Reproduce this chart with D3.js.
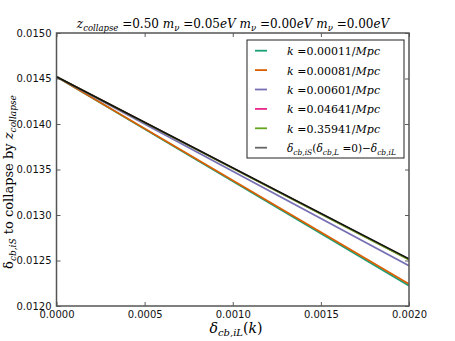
<!DOCTYPE html>
<html>
<head>
<meta charset="utf-8">
<script src="https://cdn.jsdelivr.net/npm/d3@7"></script>
<style>
  body { margin: 0; background: #fff; }
  .math { font-family: "DejaVu Serif", "Liberation Serif", serif; font-style: italic; }
  .rm { font-family: "DejaVu Serif", "Liberation Serif", serif; font-style: normal; }
</style>
</head>
<body>
<svg id="chart" width="455" height="341"></svg>
<script>
// ----- data -----
var deltaL = [0.0, 0.002];
var seriesNames = ['0.00011', '0.00081', '0.00601', '0.04641', '0.35941', 'theory'];
var seriesColors = ['#1b9e77', '#d95f02', '#7570b3', '#e7298a', '#66a61e', '#666666'];
var drawColors = ['#1b9e77', '#d95f02', '#7570b3', '#e7298a', '#66a61e', '#111111'];
var seriesValues = [
  [0.01452, 0.012222],
  [0.01452, 0.012242],
  [0.01452, 0.012443],
  [0.01452, 0.012512],
  [0.01452, 0.012508],
  [0.01452, 0.012518]
];
var xTicks = [0.0, 0.0005, 0.0010, 0.0015, 0.0020];
var yTicks = [0.0120, 0.0125, 0.0130, 0.0135, 0.0140, 0.0145, 0.0150];

// ----- layout -----
var pLeft = 56.5, pRight = 409, pTop = 33, pBottom = 306;
var svg = d3.select('#chart');

var x = d3.scaleLinear().domain([0, 0.002]).range([pLeft, pRight]);
var y = d3.scaleLinear().domain([0.012, 0.015]).range([pBottom, pTop]);

// lines
var line = d3.line()
  .x(function(d, i) { return x(deltaL[i]); })
  .y(function(d) { return y(d); });

var plot = svg.append('g');
plot.append('clipPath').attr('id', 'clip')
  .append('rect').attr('x', pLeft).attr('y', pTop)
  .attr('width', pRight - pLeft).attr('height', pBottom - pTop);

plot.selectAll('path.series')
  .data(seriesValues)
  .enter().append('path')
  .attr('class', 'series')
  .attr('clip-path', 'url(#clip)')
  .attr('d', line)
  .attr('fill', 'none')
  .attr('stroke', function(d, i) { return drawColors[i]; })
  .attr('stroke-width', function(d, i) { return i === 5 ? 1.6 : 1.8; });

// axes: ticks inside on all sides
var fmt = d3.format('.4f');
var bottomAxis = d3.axisBottom(x).tickValues(xTicks).tickFormat(fmt).tickSizeInner(-4).tickSizeOuter(0).tickPadding(5);
var topAxis = d3.axisTop(x).tickValues(xTicks).tickFormat('').tickSizeInner(-4).tickSizeOuter(0);
var leftAxis = d3.axisLeft(y).tickValues(yTicks).tickFormat(fmt).tickSizeInner(-4).tickSizeOuter(0).tickPadding(5);
var rightAxis = d3.axisRight(y).tickValues(yTicks).tickFormat('').tickSizeInner(-4).tickSizeOuter(0);

function styleAxis(g) {
  g.select('.domain').remove();
  g.selectAll('line').attr('stroke', '#333').attr('stroke-width', 0.8);
  g.selectAll('text').attr('font-size', 10).attr('fill', '#111')
    .style('font-family', '"DejaVu Sans", sans-serif');
}
svg.append('g').attr('transform', 'translate(0,' + pBottom + ')').call(bottomAxis).call(styleAxis);
svg.append('g').attr('transform', 'translate(0,' + pTop + ')').call(topAxis).call(styleAxis);
svg.append('g').attr('transform', 'translate(' + pLeft + ',0)').call(leftAxis).call(styleAxis);
svg.append('g').attr('transform', 'translate(' + pRight + ',0)').call(rightAxis).call(styleAxis);

// frame
svg.append('rect')
  .attr('x', pLeft).attr('y', pTop)
  .attr('width', pRight - pLeft).attr('height', pBottom - pTop)
  .attr('fill', 'none').attr('stroke', '#555').attr('stroke-width', 1.5);

// title
var title = svg.append('text').attr('x', 233).attr('y', 28)
  .attr('text-anchor', 'middle').attr('font-size', 12).attr('class', 'math');
title.append('tspan').text('z');
title.append('tspan').attr('font-size', 8.5).attr('dy', 3).text('collapse');
title.append('tspan').attr('dy', -3).attr('class', 'rm').text(' =0.50 ');
[['0.05'], ['0.00'], ['0.00']].forEach(function(v, i) {
  title.append('tspan').text((i ? ' ' : '') + 'm');
  title.append('tspan').attr('font-size', 8.5).attr('dy', 3).text('ν');
  title.append('tspan').attr('dy', -3).attr('class', 'rm').text(' =' + v[0]);
  title.append('tspan').text('eV');
});

// x label
var xl = svg.append('text').attr('x', 236).attr('y', 333)
  .attr('text-anchor', 'middle').attr('font-size', 14).attr('class', 'math');
xl.append('tspan').text('δ');
xl.append('tspan').attr('font-size', 10).attr('dy', 3).text('cb,iL');
xl.append('tspan').attr('dy', -3).attr('class', 'rm').text('(');
xl.append('tspan').text('k');
xl.append('tspan').attr('class', 'rm').text(')');

// y label
var yl = svg.append('text')
  .attr('transform', 'translate(13,182) rotate(-90)')
  .attr('text-anchor', 'middle').attr('font-size', 13).attr('class', 'rm');
yl.append('tspan').text('δ');
yl.append('tspan').attr('class', 'math').attr('font-size', 9).attr('dy', 3).text('cb,iS');
yl.append('tspan').attr('class', 'rm').attr('dy', -3).text(' to collapse by ');
yl.append('tspan').attr('class', 'math').text('z');
yl.append('tspan').attr('class', 'math').attr('font-size', 9).attr('dy', 3).text('collapse');

// legend
var lg = svg.append('g');
lg.append('rect').attr('x', 247).attr('y', 40).attr('width', 157).attr('height', 118)
  .attr('fill', '#fff').attr('stroke', '#222').attr('stroke-width', 1);
var rows = lg.selectAll('g.row').data(seriesNames).enter().append('g')
  .attr('class', 'row')
  .attr('transform', function(d, i) { return 'translate(0,' + (50.7 + i * 19.4) + ')'; });
rows.append('line').attr('x1', 255).attr('x2', 267).attr('y1', 0).attr('y2', 0)
  .attr('stroke', function(d, i) { return seriesColors[i]; }).attr('stroke-width', 1.8);
rows.each(function(d, i) {
  var t = d3.select(this).append('text').attr('x', 287).attr('y', 4.5)
    .attr('font-size', 11).attr('class', 'math');
  if (d !== 'theory') {
    t.append('tspan').text('k');
    t.append('tspan').attr('class', 'rm').text(' =' + d + '/');
    t.append('tspan').text('Mpc');
  } else {
    t.attr('font-size', 10.5);
    t.append('tspan').text('δ');
    t.append('tspan').attr('font-size', 7.5).attr('dy', 3).text('cb,iS');
    t.append('tspan').attr('dy', -3).attr('class', 'rm').text('(');
    t.append('tspan').text('δ');
    t.append('tspan').attr('font-size', 7.5).attr('dy', 3).text('cb,L');
    t.append('tspan').attr('dy', -3).attr('class', 'rm').text(' =0)−');
    t.append('tspan').text('δ');
    t.append('tspan').attr('font-size', 7.5).attr('dy', 3).text('cb,iL');
  }
});
</script>
</body>
</html>
